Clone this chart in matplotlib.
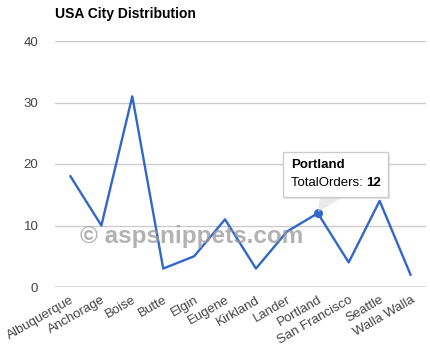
import matplotlib.pyplot as plt
from matplotlib.patches import FancyBboxPatch, Polygon

cities = ["Albuquerque", "Anchorage", "Boise", "Butte", "Elgin", "Eugene",
          "Kirkland", "Lander", "Portland", "San Francisco", "Seattle", "Walla Walla"]
orders = [18, 10, 31, 3, 5, 11, 3, 9, 12, 4, 14, 2]
yticks = [0, 10, 20, 30, 40]
focus = "Portland"

plt.rcParams['font.family'] = ['Arial', 'Liberation Sans', 'DejaVu Sans']

fig = plt.figure(figsize=(4.31, 3.54), dpi=100)
ax = fig.add_axes([55 / 431, 1 - 287 / 354, 371 / 431, 246 / 354])

x = list(range(len(cities)))
ax.plot(x, orders, color='#3366cc', lw=1.7, zorder=3)
i = cities.index(focus)
ax.plot(x[i], orders[i], 'o', color='#3366cc', ms=5.5, zorder=4)

ax.set_xlim(-0.5, len(cities) - 0.5)
ax.set_ylim(0, 40)
ax.set_yticks(yticks)
for v in yticks[1:]:
    ax.axhline(v, color='#cccccc', lw=1, zorder=1)
ax.axhline(0, color='#333333', lw=1, zorder=2)
for s in ax.spines.values():
    s.set_visible(False)
ax.tick_params(length=0, labelsize=9.5, colors='#444444')
ax.tick_params(axis='y', pad=12)
ax.set_xticks(x)
ax.set_xticklabels(cities, rotation=30, ha='right', rotation_mode='anchor')
ax.tick_params(axis='x', pad=5)

fig.text(55 / 431, 1 - 14 / 354, "USA City Distribution", fontsize=10,
         fontweight='bold', va='center', ha='left', color='#000000')

# watermark
fig.text(80 / 431, 1 - 237 / 354, "© aspsnippets.com", fontsize=17.5,
         fontweight='bold', color='#999999', alpha=0.75, va='center', ha='left', zorder=10)

# tooltip
tx0, ty0, tw, th = 283 / 431, 1 - 197 / 354, 105 / 431, 45 / 354
tri = Polygon([(320 / 431, 1 - 196 / 354), (345 / 431, 1 - 196 / 354),
               (318 / 431, 1 - 212 / 354)], closed=True, transform=fig.transFigure,
              facecolor='#dddddd', edgecolor='none', alpha=0.6, zorder=11)
fig.add_artist(tri)
shadow = FancyBboxPatch((tx0 + 0.004, ty0 - 0.005), tw, th, boxstyle='square,pad=0',
                        transform=fig.transFigure, facecolor='#cccccc', edgecolor='none',
                        alpha=0.5, zorder=11)
fig.add_artist(shadow)
box = FancyBboxPatch((tx0, ty0), tw, th, boxstyle='square,pad=0',
                     transform=fig.transFigure, facecolor='white', edgecolor='#cccccc',
                     lw=1, zorder=12)
fig.add_artist(box)
fig.text(291 / 431, 1 - 165 / 354, focus, fontsize=9.5, fontweight='bold',
         va='center', ha='left', zorder=13)
fig.text(291 / 431, 1 - 183 / 354, "TotalOrders: ", fontsize=9.5,
         va='center', ha='left', zorder=13)
fig.text(366 / 431, 1 - 183 / 354, str(orders[i]), fontsize=9.5, fontweight='bold',
         va='center', ha='left', zorder=13)

fig.savefig("out.png", dpi=100, facecolor='white')
